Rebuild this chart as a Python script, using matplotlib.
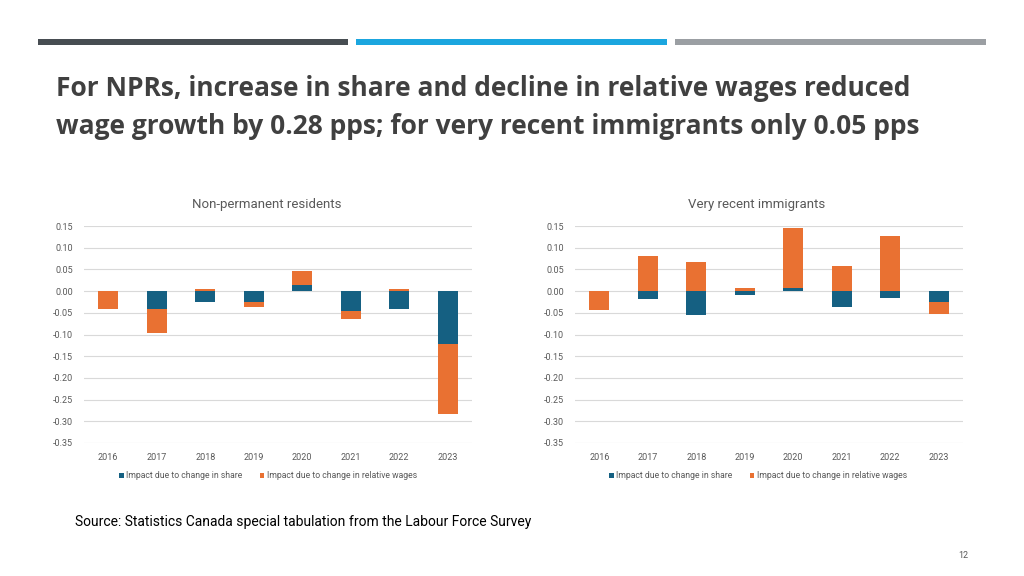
import matplotlib
matplotlib.use("Agg")
import matplotlib.pyplot as plt
import numpy as np
from matplotlib.patches import Patch, Rectangle

years = ["2016", "2017", "2018", "2019", "2020", "2021", "2022", "2023"]
npr_share = [0.000, -0.041, -0.025, -0.024, 0.015, -0.047, -0.042, -0.121]
npr_wages = [-0.041, -0.055, 0.005, -0.012, 0.032, -0.018, 0.005, -0.162]
vri_share = [0.000, -0.018, -0.056, -0.010, 0.008, -0.036, -0.015, -0.025]
vri_wages = [-0.044, 0.080, 0.067, 0.006, 0.138, 0.058, 0.127, -0.027]
yticks = [0.15, 0.10, 0.05, 0.00, -0.05, -0.10, -0.15, -0.20, -0.25, -0.30, -0.35]
series_names = ["Impact due to change in share", "Impact due to change in relative wages"]
panel_titles = ["Non-permanent residents", "Very recent immigrants"]

BLUE = "#156082"
ORANGE = "#E97132"
GRID = "#D9D9D9"
TXT = "#595959"

plt.rcParams['font.family'] = ['Roboto', 'DejaVu Sans']

fig = plt.figure(figsize=(10.24, 5.76), dpi=100)
W, H = 1024, 576

def fx(x):
    return x / W

def fy(y):
    return 1 - y / H

# top decorative bars
for x0, x1, c in [(38, 348, "#474D52"), (356, 667, "#1BA6DF"), (675, 986, "#9B9FA3")]:
    fig.add_artist(Rectangle((fx(x0), fy(45)), fx(x1 - x0), 6 / H, transform=fig.transFigure,
                             facecolor=c, edgecolor="none"))

title_font = ['Open Sans', 'Roboto', 'DejaVu Sans']
fig.text(fx(56), fy(89), "For NPRs, increase in share and decline in relative wages reduced",
         fontsize=19, fontweight="bold", color="#404040", va="center", ha="left", family=title_font)
fig.text(fx(56), fy(126), "wage growth by 0.28 pps; for very recent immigrants only 0.05 pps",
         fontsize=19, fontweight="bold", color="#404040", va="center", ha="left", family=title_font)

def panel(left_px, share, wages, title, title_x):
    ax = fig.add_axes([fx(left_px), fy(443), fx(388), (443 - 226) / H])
    x = np.arange(len(years))
    s = np.array(share)
    w = np.array(wages)
    bw = 0.405
    ax.bar(x, s, width=bw, color=BLUE, zorder=3)
    wbottom = np.where(np.sign(w) == np.sign(s), s, 0.0)
    ax.bar(x, w, bottom=wbottom, width=bw, color=ORANGE, zorder=3)
    ax.set_xlim(-0.5, len(years) - 0.5)
    ax.set_ylim(-0.35, 0.15)
    ax.set_yticks(yticks)
    ax.set_yticklabels([f"{v:.2f}" if v != 0 else "0.00" for v in yticks])
    ax.set_xticks(x)
    ax.set_xticklabels(years)
    ax.tick_params(axis="both", length=0, labelsize=6.5, colors=TXT)
    ax.tick_params(axis="y", pad=8)
    ax.tick_params(axis="x", pad=7)
    ax.yaxis.grid(True, color=GRID, linewidth=0.8, zorder=0)
    for sp in ax.spines.values():
        sp.set_visible(False)
    fig.text(fx(title_x), fy(204), title, ha="center", va="center", fontsize=9.5, color=TXT)
    handles = [Patch(facecolor=BLUE, label=series_names[0]), Patch(facecolor=ORANGE, label=series_names[1])]
    fig.legend(handles=handles, loc="center", bbox_to_anchor=(fx(title_x + 1), fy(476)), ncol=2,
               frameon=False, fontsize=6.2, handlelength=0.55, handleheight=0.55, handletextpad=0.3,
               columnspacing=2.0, labelcolor=TXT)
    return ax

panel(84, npr_share, npr_wages, panel_titles[0], 267)
panel(575, vri_share, vri_wages, panel_titles[1], 757)

fig.text(fx(75), fy(522), "Source: Statistics Canada special tabulation from the Labour Force Survey",
         fontsize=10, color="#000000", va="center", ha="left")
fig.text(fx(968), fy(555), "12", fontsize=6.5, color=TXT, va="center", ha="right")

fig.savefig("out.png", dpi=100)
